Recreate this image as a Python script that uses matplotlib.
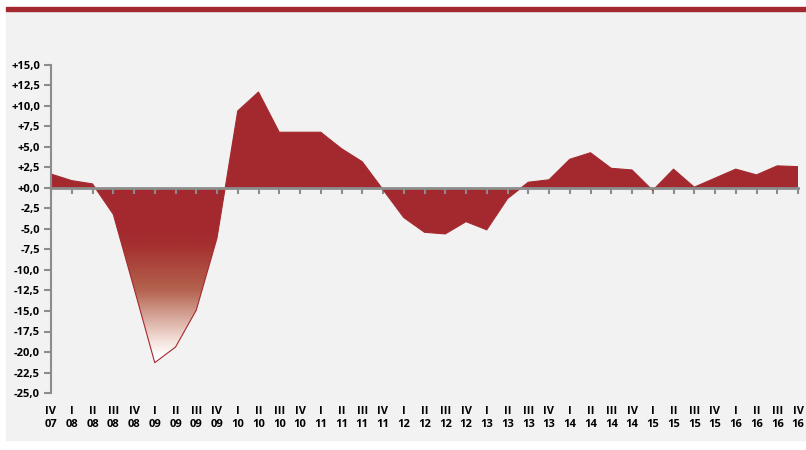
import numpy as np
import matplotlib
matplotlib.use("Agg")
import matplotlib.pyplot as plt
from matplotlib.colors import LinearSegmentedColormap
from matplotlib.patches import Rectangle

# quarterly change, IV 07 .. IV 16
quarters = ["IV"] + ["I", "II", "III", "IV"] * 9
years = ["07"] + [y for y in ["08", "09", "10", "11", "12", "13", "14", "15", "16"] for _ in range(4)]
values = [1.7, 0.9, 0.5, -3.2, -12.2, -21.3, -19.4, -14.9, -6.1, 9.4, 11.7,
          6.8, 6.8, 6.8, 4.8, 3.2, -0.2, -3.6, -5.4, -5.6, -4.1, -5.1, -1.3,
          0.7, 1.0, 3.5, 4.3, 2.4, 2.2, -0.3, 2.3, 0.1, 1.2, 2.3, 1.6, 2.7, 2.6]
yticks = np.arange(-25, 15.1, 2.5)

red = "#a4292f"
grey = "#8c8c8c"
bg = "#f1f2f1"

plt.rcParams["font.family"] = ["Open Sans", "DejaVu Sans"]

fig = plt.figure(figsize=(8.06, 4.5), dpi=100)
fig.patch.set_facecolor("white")
fig.patches.append(Rectangle((6 / 806, 10 / 450), 1, 428 / 450,
                             transform=fig.transFigure, color=bg, zorder=-10))
fig.patches.append(Rectangle((6 / 806, 1 - 10.7 / 450), 1, 4 / 450,
                             transform=fig.transFigure, color=red, zorder=-9))

ax = fig.add_axes([51 / 806, 57 / 450, 747 / 806, 328 / 450])
ax.set_facecolor("none")

x = np.arange(len(values))
ax.set_xlim(0, len(values) - 1)
ax.set_ylim(-25, 15)

# area: solid red down to about -5, fading to white near the trough
lo, hi = -22.0, 15.0
def stop(v):
    return (v - lo) / (hi - lo)
cmap = LinearSegmentedColormap.from_list(
    "fade", [(0.0, "#ffffff"), (stop(-20.5), "#ffffff"), (stop(-18.5), "#f3ddd6"),
             (stop(-12.5), "#b4634f"), (stop(-7.0), "#a5302f"),
             (stop(-5.0), red), (1.0, red)])
poly = ax.fill_between(x, values, 0, color="none", lw=0)
grad = np.linspace(-25, 15, 400).reshape(-1, 1)
img = ax.imshow(grad, cmap=cmap, vmin=lo, vmax=hi, origin="lower",
                extent=[0, len(values) - 1, -25, 15], aspect="auto", zorder=1)
img.set_clip_path(poly.get_paths()[0], ax.transData)
ax.plot(x, values, color=red, lw=0.8, zorder=2)

# zero line with quarter ticks
for s in ["top", "right"]:
    ax.spines[s].set_visible(False)
ax.spines["bottom"].set_position(("data", 0))
ax.spines["bottom"].set_color(grey)
ax.spines["bottom"].set_linewidth(2)
ax.spines["bottom"].set_zorder(3)
ax.spines["left"].set_color(grey)
ax.spines["left"].set_linewidth(1.5)
ax.set_xticks(x)
ax.tick_params(axis="x", direction="out", length=4, width=1.5, color=grey,
               labelbottom=False)

sec = ax.secondary_xaxis(0.0)
sec.spines["bottom"].set_visible(False)
sec.set_xticks(x)
sec.set_xticklabels([f"{q}\n{y}" for q, y in zip(quarters, years)],
                    fontsize=8, fontweight="bold", linespacing=1.35)
sec.tick_params(axis="x", length=0, pad=9)

ax.set_yticks(yticks)
ax.set_yticklabels([f"{v:+.1f}".replace(".", ",") for v in yticks],
                   fontsize=8, fontweight="bold")
ax.tick_params(axis="y", direction="out", length=5, width=1.5, color=grey, pad=3)

fig.savefig("out.png", dpi=100)
